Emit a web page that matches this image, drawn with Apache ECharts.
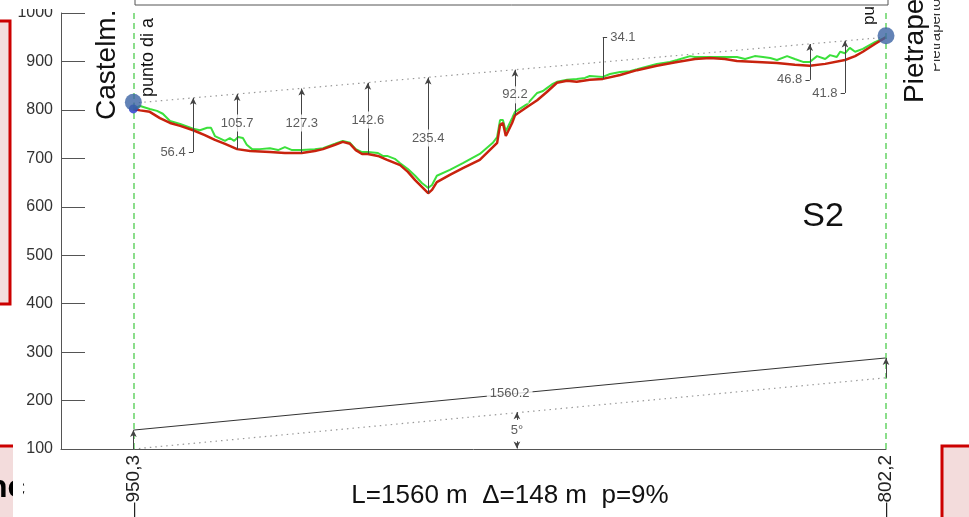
<!DOCTYPE html>
<html>
<head>
<meta charset="utf-8">
<title>Profilo S2</title>
<script src="https://cdn.jsdelivr.net/npm/echarts@6/dist/echarts.min.js"></script>
<style>
html, body { margin: 0; padding: 0; background: #fff; }
#chart { width: 969px; height: 517px; }
</style>
</head>
<body>
<div id="chart"></div>
<script>
// profilo del terreno (distanza m, quota m)
const redDist = [0, 14, 34, 55, 76, 97, 124, 148, 169, 190, 215, 242, 283, 314, 349, 376, 393, 418, 434, 449, 461, 474, 486, 507, 526, 553, 569, 584, 598, 611, 619, 629, 656, 683, 718, 745, 754, 760, 766, 772, 785, 791, 816, 837, 857, 878, 899, 919, 946, 973, 1009, 1044, 1085, 1127, 1164, 1195, 1226, 1251, 1293, 1334, 1371, 1402, 1434, 1475, 1496, 1512, 1537, 1560];
const redElev = [802, 799, 796, 783, 773, 767, 758, 748, 738, 730, 719, 715, 713, 711, 711, 715, 719, 728, 734, 730, 717, 709, 709, 705, 697, 686, 672, 655, 641, 628, 635, 651, 666, 680, 697, 723, 732, 769, 773, 746, 773, 789, 806, 820, 837, 856, 860, 858, 862, 864, 872, 882, 891, 899, 905, 907, 905, 901, 899, 897, 893, 891, 895, 903, 911, 920, 936, 950];

// profilo grezzo (verde)
const greenDist = [0, 14, 34, 49, 61, 76, 97, 124, 138, 153, 161, 169, 190, 200, 209, 217, 227, 235, 246, 262, 283, 300, 314, 329, 349, 376, 393, 418, 434, 449, 461, 474, 486, 507, 517, 526, 542, 553, 569, 584, 598, 606, 611, 619, 629, 656, 683, 718, 745, 754, 760, 766, 772, 785, 791, 816, 837, 849, 857, 868, 878, 899, 919, 936, 946, 973, 988, 1009, 1029, 1044, 1085, 1112, 1127, 1154, 1164, 1195, 1226, 1251, 1268, 1288, 1305, 1320, 1334, 1355, 1371, 1388, 1402, 1417, 1434, 1444, 1458, 1465, 1475, 1485, 1496, 1512, 1537, 1560];
const greenElev = [802, 808, 802, 798, 792, 777, 771, 761, 758, 763, 763, 746, 736, 742, 736, 744, 742, 728, 719, 719, 721, 717, 723, 717, 717, 719, 721, 730, 736, 732, 719, 713, 713, 711, 705, 705, 699, 690, 678, 664, 649, 643, 639, 645, 664, 676, 690, 709, 732, 744, 779, 779, 756, 783, 796, 812, 835, 839, 845, 853, 858, 862, 864, 866, 870, 868, 874, 878, 880, 884, 895, 899, 903, 911, 909, 909, 909, 909, 905, 911, 909, 907, 903, 911, 905, 899, 899, 911, 905, 913, 909, 920, 917, 928, 920, 926, 940, 950];

// linea di vista e base
const sightDist = [0, 1560];
const sightElev = [814, 950];
const chordElev = [139, 288];
const baseElev = [100, 247];

// estremi
const endDist = [0, 1560];
const endElev = [816, 953];
const xEndLabels = ['—950,3', '—802,2'];

// quote delle distanze verticali
const annotDist = [124, 215, 349, 486, 611, 791, 973, 1402, 1475];
const annotTop = [825, 833, 844, 856, 867, 883, 950, 936, 943];
const annotBottom = [758, 719, 711, 709, 628, 789, 864, 891, 903];
const annotLabelY = [713, 773, 773, 779, 742, 831, 950, 862, 835];
const annotText = ['56.4', '105.7', '127.3', '142.6', '235.4', '92.2', '34.1', '46.8', '41.8'];
const annotSide = ['left', 'mid', 'mid', 'mid', 'mid', 'mid', 'right', 'left', 'left'];

const FONT = 'Liberation Sans';

function pairs(xs, ys) {
    return xs.map((x, i) => [x, ys[i]]);
}

let chart = echarts.init(document.getElementById('chart'));

// segmenti delle quote
let annotLines = [];
annotDist.forEach((d, i) => {
    let low = Math.min(annotBottom[i], annotLabelY[i]);
    annotLines.push([
        {coord: [d, annotTop[i]], symbol: annotSide[i] === 'right' ? 'none' : 'arrow'},
        {coord: [d, low], symbol: 'none'}
    ]);
    if (annotSide[i] === 'left') {
        annotLines.push([{coord: [d - 9, annotLabelY[i]], symbol: 'none'}, {coord: [d, annotLabelY[i]], symbol: 'none'}]);
    }
    if (annotSide[i] === 'right') {
        annotLines.push([{coord: [d, annotTop[i]], symbol: 'none'}, {coord: [d + 9, annotTop[i]], symbol: 'none'}]);
    }
});
// base: verticali agli estremi e freccette dell'angolo
annotLines.push([{coord: [0, baseElev[0]], symbol: 'none'}, {coord: [0, chordElev[0]], symbol: 'arrow'}]);
annotLines.push([{coord: [1560, baseElev[1]], symbol: 'none'}, {coord: [1560, chordElev[1]], symbol: 'arrow'}]);
annotLines.push([{coord: [795, 160], symbol: 'none'}, {coord: [795, 176], symbol: 'arrow'}]);
annotLines.push([{coord: [795, 116], symbol: 'none'}, {coord: [795, 101], symbol: 'arrow'}]);

let labelData = annotDist.map((d, i) => {
    let side = annotSide[i];
    let lab = {show: true, formatter: annotText[i]};
    if (side === 'left') {
        lab.position = 'left';
        lab.distance = 7;
    } else if (side === 'right') {
        lab.position = 'right';
        lab.distance = 7;
    } else {
        lab.position = 'inside';
        lab.backgroundColor = '#fff';
        lab.padding = [2, 1];
    }
    return {value: [d, annotLabelY[i]], label: lab};
});
labelData.push({value: [780, 214], label: {show: true, formatter: '1560.2', position: 'inside', backgroundColor: '#fff', padding: [2, 3]}});
labelData.push({value: [795, 139], label: {show: true, formatter: '5°', position: 'inside', backgroundColor: '#fff', padding: [2, 1]}});

let option = {
    animation: false,
    backgroundColor: '#fff',
    grid: {left: 61, right: 83, top: 13, bottom: 68, containLabel: false, outerBoundsMode: 'none'},
    xAxis: {
        type: 'value',
        min: -150,
        max: 1560,
        splitLine: {show: false},
        axisLine: {onZero: false, lineStyle: {color: '#555', width: 1}},
        axisTick: {show: false},
        axisLabel: {
            customValues: endDist,
            rotate: 90,
            margin: 6,
            fontSize: 19,
            fontFamily: FONT,
            color: '#222',
            formatter: (v) => xEndLabels[endDist.indexOf(v)]
        }
    },
    yAxis: {
        type: 'value',
        min: 100,
        max: 1000,
        interval: 100,
        splitLine: {show: false},
        axisLine: {show: true, onZero: false, lineStyle: {color: '#555', width: 1}},
        axisTick: {show: true, inside: true, length: 24, lineStyle: {color: '#555'}},
        axisLabel: {fontSize: 16, fontFamily: FONT, color: '#333', margin: 8, formatter: (v) => String(v)}
    },
    series: [
        {
            type: 'line',
            data: pairs(sightDist, baseElev),
            symbol: 'none',
            lineStyle: {color: '#999', width: 1.2, type: [1.5, 4]},
            markLine: {
                silent: true,
                symbol: 'none',
                label: {show: false},
                lineStyle: {color: '#66d466', width: 1.5, type: [6, 4]},
                data: [{xAxis: 0}, {xAxis: 1560}]
            },
            z: 1
        },
        {
            type: 'line',
            data: pairs(sightDist, chordElev),
            symbol: 'none',
            lineStyle: {color: '#333', width: 1},
            z: 1
        },
        {
            type: 'line',
            data: pairs(sightDist, sightElev),
            symbol: 'none',
            lineStyle: {color: '#999', width: 1.2, type: [1.5, 4]},
            z: 1
        },
        {
            type: 'line',
            data: [],
            markLine: {
                silent: true,
                symbolSize: [5, 7],
                label: {show: false},
                lineStyle: {color: '#444', width: 1, type: 'solid'},
                data: annotLines
            },
            z: 2
        },
        {
            type: 'line',
            data: pairs(greenDist, greenElev),
            symbol: 'none',
            lineStyle: {color: '#3be03b', width: 2},
            z: 3
        },
        {
            type: 'line',
            data: pairs(redDist, redElev),
            symbol: 'none',
            lineStyle: {color: '#c8230e', width: 2.5},
            z: 4
        },
        {
            type: 'scatter',
            data: labelData,
            symbolSize: 1,
            itemStyle: {color: 'rgba(0,0,0,0)'},
            label: {color: '#333', fontSize: 13, fontFamily: FONT},
            z: 5
        },
        {
            type: 'scatter',
            data: [[0, 802]],
            symbolSize: 9,
            itemStyle: {color: '#1f33cc'},
            z: 6
        },
        {
            type: 'scatter',
            data: pairs(endDist, endElev),
            symbolSize: 17,
            itemStyle: {color: '#3c64a4'},
            z: 7
        }
    ],
    graphic: [
        {type: 'text', x: 107, y: 120, rotation: Math.PI / 2, style: {text: 'Castelm.', font: '28px ' + FONT, fill: '#111', textAlign: 'left', textVerticalAlign: 'middle'}},
        {type: 'text', x: 148, y: 97, rotation: Math.PI / 2, style: {text: 'punto di a', font: '18px ' + FONT, fill: '#111', textAlign: 'left', textVerticalAlign: 'middle'}},
        {type: 'text', x: 869, y: 25, rotation: Math.PI / 2, style: {text: 'punto di partenza', font: '17px ' + FONT, fill: '#111', textAlign: 'left', textVerticalAlign: 'middle'}},
        {type: 'text', x: 936, y: 72, rotation: Math.PI / 2, style: {text: 'Pietrapertosa', font: '15px ' + FONT, fill: '#333', textAlign: 'left', textVerticalAlign: 'middle'}},
        {type: 'rect', shape: {x: 926, y: 0, width: 8, height: 80}, style: {fill: '#fff'}, z: 10},
        {type: 'text', x: 915, y: 103, rotation: Math.PI / 2, style: {text: 'Pietrapertosa', font: '28px ' + FONT, fill: '#111', textAlign: 'left', textVerticalAlign: 'middle'}, z: 11},
        {type: 'text', x: 823, y: 217, style: {text: 'S2', font: '34px ' + FONT, fill: '#111', textAlign: 'center', textVerticalAlign: 'middle'}},
        {type: 'text', x: 510, y: 496, style: {text: 'L=1560 m  Δ=148 m  p=9%', font: '26px ' + FONT, fill: '#111', textAlign: 'center', textVerticalAlign: 'middle'}},
        // riquadri della slide
        {type: 'rect', shape: {x: 135, y: -20, width: 753, height: 25}, style: {fill: '#fff', stroke: '#555', lineWidth: 1}, z: 12},
        {type: 'rect', shape: {x: 14, y: 0, width: 46, height: 9}, style: {fill: '#fff'}, z: 12},
        {type: 'rect', shape: {x: -5, y: 21, width: 15, height: 283}, style: {fill: '#f3dcdc', stroke: '#cc0000', lineWidth: 3}, z: 12},
        {type: 'rect', shape: {x: -5, y: 446, width: 20, height: 80}, style: {fill: '#f3dcdc', stroke: '#cc0000', lineWidth: 3}, z: 12},
        {type: 'text', x: -12, y: 488, style: {text: 'nc', font: 'bold 32px ' + FONT, fill: '#000', textAlign: 'left', textVerticalAlign: 'middle'}, z: 13},
        {type: 'rect', shape: {x: 13, y: 444, width: 10, height: 80}, style: {fill: '#fff'}, z: 14},
        {type: 'rect', shape: {x: 942, y: 446, width: 40, height: 80}, style: {fill: '#f3dcdc', stroke: '#cc0000', lineWidth: 3}, z: 12}
    ]
};
chart.setOption(option);
</script>
</body>
</html>
